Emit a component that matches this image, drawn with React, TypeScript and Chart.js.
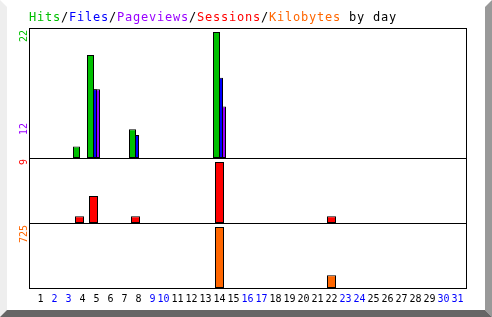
import { useEffect, useRef } from 'react';
import { Chart, registerables } from 'chart.js';

Chart.register(...registerables);

// ---- data -------------------------------------------------------------
const days = [1, 2, 3, 4, 5, 6, 7, 8, 9, 10, 11, 12, 13, 14, 15, 16, 17, 18, 19, 20, 21, 22, 23, 24, 25, 26, 27, 28, 29, 30, 31];
const weekendDays = [2, 3, 9, 10, 16, 17, 23, 24, 30, 31];

const hits = [0, 0, 0, 2, 18, 0, 0, 5, 0, 0, 0, 0, 0, 22, 0, 0, 0, 0, 0, 0, 0, 0, 0, 0, 0, 0, 0, 0, 0, 0, 0];
const files = [0, 0, 0, 0, 12, 0, 0, 4, 0, 0, 0, 0, 0, 14, 0, 0, 0, 0, 0, 0, 0, 0, 0, 0, 0, 0, 0, 0, 0, 0, 0];
const pageviews = [0, 0, 0, 0, 12, 0, 0, 0, 0, 0, 0, 0, 0, 9, 0, 0, 0, 0, 0, 0, 0, 0, 0, 0, 0, 0, 0, 0, 0, 0, 0];
const sessions = [0, 0, 0, 1, 4, 0, 0, 1, 0, 0, 0, 0, 0, 9, 0, 0, 0, 0, 0, 0, 0, 1, 0, 0, 0, 0, 0, 0, 0, 0, 0];
const kilobytes = [0, 0, 0, 0, 0, 0, 0, 0, 0, 0, 0, 0, 0, 725, 0, 0, 0, 0, 0, 0, 0, 150, 0, 0, 0, 0, 0, 0, 0, 0, 0];

// axis maxima (a little headroom above the biggest bar, as in the original)
const TOP_AXIS_MAX = 22.7;
const MID_AXIS_MAX = 9.6;
const BOT_AXIS_MAX = 772;

const C = {
  hits: '#00c000',
  files: '#0000ff',
  pages: '#9900ff',
  sessions: '#ff0000',
  kb: '#ff6600',
  weekend: '#0000ff',
  text: '#000000',
};

const titleParts: [string, string][] = [
  ['Hits', C.hits],
  ['/', C.text],
  ['Files', C.files],
  ['/', C.text],
  ['Pageviews', C.pages],
  ['/', C.text],
  ['Sessions', C.sessions],
  ['/', C.text],
  ['Kilobytes', C.kb],
  [' by day', C.text],
];

const MONO = "'DejaVu Sans Mono', 'Liberation Mono', monospace";

function poly(ctx: CanvasRenderingContext2D, pts: number[][], color: string) {
  ctx.beginPath();
  ctx.moveTo(pts[0][0], pts[0][1]);
  for (let i = 1; i < pts.length; i++) ctx.lineTo(pts[i][0], pts[i][1]);
  ctx.closePath();
  ctx.fillStyle = color;
  ctx.fill();
}

function upText(ctx: CanvasRenderingContext2D, text: string, x: number, y: number, color: string, align: CanvasTextAlign) {
  ctx.save();
  ctx.translate(x, y);
  ctx.rotate(-Math.PI / 2);
  ctx.font = `10px ${MONO}`;
  ctx.fillStyle = color;
  ctx.textAlign = align;
  ctx.textBaseline = 'middle';
  ctx.fillText(text, 0, 0);
  ctx.restore();
}

const framePlugin = {
  id: 'webalizerFrame',
  beforeDraw(chart: any) {
    const { ctx, width: W, height: H } = chart;
    ctx.save();
    ctx.fillStyle = '#ffffff';
    ctx.fillRect(0, 0, W, H);
    const b = 7;
    poly(ctx, [[0, 0], [b, b], [b, H - b], [0, H]], '#eeeeee');
    poly(ctx, [[W, 0], [W, H], [W - b, H - b], [W - b, b]], '#999999');
    poly(ctx, [[0, H], [b, H - b], [W - b, H - b], [W, H]], '#666666');
    ctx.restore();
  },
  afterDatasetsDraw(chart: any) {
    const { ctx, chartArea, scales } = chart;
    const l = Math.round(chartArea.left) - 2;
    const r = Math.round(chartArea.right) + 1;
    const yT = scales.yTop;
    const yM = scales.yMid;
    const yB = scales.yBot;
    const rows = [yT.top, yT.bottom, yM.bottom, yB.bottom].map((v: number) => Math.round(v) + 0.5);

    ctx.save();
    ctx.strokeStyle = '#000000';
    ctx.lineWidth = 1;
    ctx.beginPath();
    rows.forEach((y: number) => {
      ctx.moveTo(l, y);
      ctx.lineTo(r + 1, y);
    });
    ctx.moveTo(l + 0.5, rows[0]);
    ctx.lineTo(l + 0.5, rows[3]);
    ctx.moveTo(r + 0.5, rows[0]);
    ctx.lineTo(r + 0.5, rows[3]);
    ctx.stroke();

    // rotated maximum labels on the left
    const lx = l - 5;
    upText(ctx, String(Math.max(...hits)), lx, yT.top + 2, C.hits, 'right');
    upText(ctx, String(Math.max(...pageviews)), lx, yT.bottom - 23, C.pages, 'left');
    upText(ctx, String(Math.max(...sessions)), lx, yM.top + 1, C.sessions, 'right');
    upText(ctx, String(Math.max(...kilobytes)), lx, yB.top + 2, C.kb, 'right');

    // multi-coloured title, fixed 8px character pitch
    ctx.font = `12px ${MONO}`;
    ctx.textAlign = 'left';
    ctx.textBaseline = 'alphabetic';
    let i = 0;
    for (const [txt, col] of titleParts) {
      ctx.fillStyle = col;
      for (const ch of txt) {
        ctx.fillText(ch, l + i * 8, 21);
        i++;
      }
    }
    ctx.restore();
  },
};

const common = {
  borderColor: '#000000',
  borderWidth: 1,
  borderSkipped: false as const,
  inflateAmount: 0,
};

export default function App() {
  const ref = useRef<HTMLCanvasElement>(null);

  useEffect(() => {
    if (!ref.current) return;
    Chart.defaults.font.family = MONO;
    const grouped = { categoryPercentage: 9 / 14, barPercentage: 7 / 3 };
    const chart = new Chart(ref.current, {
      type: 'bar',
      data: {
        labels: days,
        datasets: [
          { label: 'Hits', data: hits, yAxisID: 'yTop', backgroundColor: C.hits, ...common, ...grouped },
          { label: 'Files', data: files, yAxisID: 'yTop', backgroundColor: C.files, ...common, ...grouped },
          { label: 'Pageviews', data: pageviews, yAxisID: 'yTop', backgroundColor: C.pages, ...common, ...grouped },
          { label: 'Sessions', data: sessions, yAxisID: 'yMid', backgroundColor: C.sessions, grouped: false, barThickness: 9, ...common },
          { label: 'Kilobytes', data: kilobytes, yAxisID: 'yBot', backgroundColor: C.kb, grouped: false, barThickness: 9, ...common },
        ],
      },
      options: {
        responsive: false,
        maintainAspectRatio: false,
        devicePixelRatio: 1,
        animation: false,
        events: [],
        layout: { padding: { left: 30.5, right: 27.5, top: 28, bottom: 7 } },
        plugins: {
          legend: { display: false },
          tooltip: { enabled: false },
          title: { display: false },
        },
        scales: {
          x: {
            type: 'category',
            offset: true,
            grid: { display: false, drawTicks: false },
            border: { display: false },
            ticks: {
              autoSkip: false,
              maxRotation: 0,
              minRotation: 0,
              padding: 5,
              font: { family: MONO, size: 10 },
              color: (c: any) => (weekendDays.includes(days[c.index]) ? C.weekend : C.text),
              callback: (_v: any, i: number) => {
                const s = String(days[i]);
                return s.length === 1 ? ' ' + s : s;
              },
            },
            afterFit: (s: any) => {
              s.height = 22;
            },
          },
          yTop: {
            type: 'linear',
            position: 'left',
            stack: 'panels',
            stackWeight: 2,
            weight: 3,
            display: false,
            min: 0,
            max: TOP_AXIS_MAX,
          },
          yMid: {
            type: 'linear',
            position: 'left',
            stack: 'panels',
            stackWeight: 1,
            weight: 2,
            display: false,
            min: 0,
            max: MID_AXIS_MAX,
          },
          yBot: {
            type: 'linear',
            position: 'left',
            stack: 'panels',
            stackWeight: 1,
            weight: 1,
            display: false,
            min: 0,
            max: BOT_AXIS_MAX,
          },
        },
      },
      plugins: [framePlugin],
    } as any);
    return () => chart.destroy();
  }, []);

  return (
    <div style={{ position: 'fixed', left: 0, top: 0, width: 492, height: 317 }}>
      <canvas ref={ref} width={492} height={317} style={{ display: 'block', width: 492, height: 317 }} />
    </div>
  );
}
